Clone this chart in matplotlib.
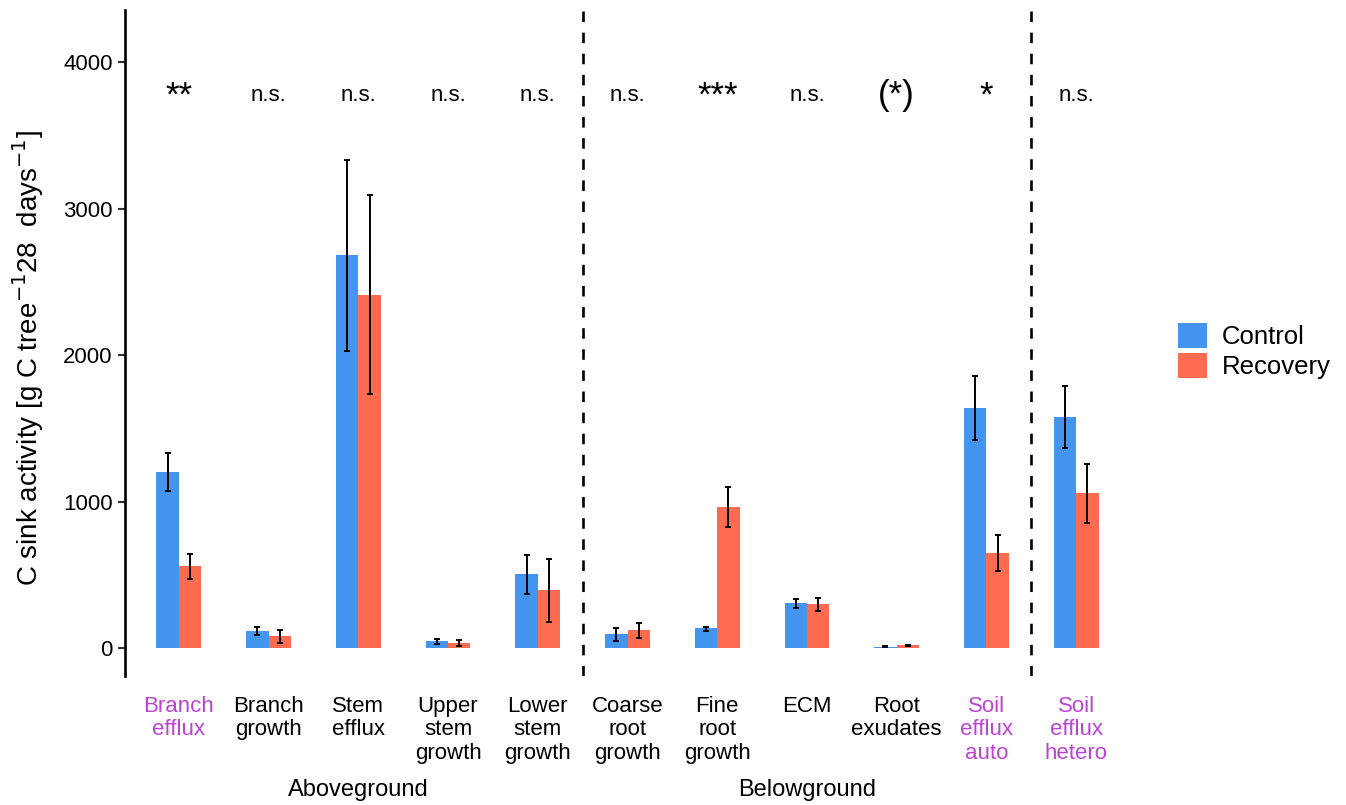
import matplotlib
matplotlib.use("Agg")
import matplotlib.pyplot as plt
import numpy as np
from matplotlib.patches import Patch

plt.rcParams['font.family'] = ['Liberation Sans', 'DejaVu Sans']

# categories (x axis labels)
sinks = ["Branch\nefflux", "Branch\ngrowth", "Stem\nefflux", "Upper\nstem\ngrowth",
         "Lower\nstem\ngrowth", "Coarse\nroot\ngrowth", "Fine\nroot\ngrowth", "ECM",
         "Root\nexudates", "Soil\nefflux\nauto", "Soil\nefflux\nhetero"]
highlight = [True, False, False, False, False, False, False, False, False, True, True]

# means and error bar ends
control = [1203, 116, 2680, 52, 503, 96, 137, 307, 11, 1640, 1575]
control_lo = [1072, 87, 2027, 32, 369, 52, 118, 275, 8, 1420, 1363]
control_hi = [1333, 145, 3329, 66, 635, 141, 148, 337, 14, 1859, 1790]

recovery = [560, 80, 2412, 36, 394, 123, 965, 302, 20, 648, 1058]
recovery_lo = [469, 36, 1734, 14, 182, 73, 828, 255, 15, 526, 855]
recovery_hi = [642, 125, 3090, 57, 610, 173, 1101, 346, 25, 773, 1256]

signif = ["**", "n.s.", "n.s.", "n.s.", "n.s.", "n.s.", "***", "n.s.", "(*)", "*", "n.s."]
groups = ["Aboveground", "Belowground"]
group_pos = [3, 8]
dividers = [5.5, 10.5]

blue = "#4395EF"
red = "#FF6B4E"
purple = "#BB44D4"

fig = plt.figure(figsize=(13.46, 8.05), dpi=100)
ax = fig.add_axes([0.0929, 0.160, 0.7466, 0.8276])

x = np.arange(1, len(sinks) + 1)
w = 0.25
c = np.array(control); r = np.array(recovery)
ax.bar(x - w / 2, c, width=w, color=blue, edgecolor="none")
ax.bar(x + w / 2, r, width=w, color=red, edgecolor="none")
ax.errorbar(x - w / 2, c, yerr=[c - np.array(control_lo), np.array(control_hi) - c],
            fmt="none", ecolor="black", elinewidth=1.4, capsize=2.2, capthick=1.4)
ax.errorbar(x + w / 2, r, yerr=[r - np.array(recovery_lo), np.array(recovery_hi) - r],
            fmt="none", ecolor="black", elinewidth=1.4, capsize=2.2, capthick=1.4)

for d in dividers:
    ax.axvline(d, color="black", linestyle=(0, (4, 4)), linewidth=1.9)

for xi, s in zip(x, signif):
    if "*" in s:
        ax.text(xi, 3770, s, ha="center", va="center", fontsize=25)
    else:
        ax.text(xi, 3770, s, ha="center", va="center", fontsize=16)

ax.set_xlim(0.4, 11.6)
ax.set_ylim(-191, 4355)
ax.set_yticks([0, 1000, 2000, 3000, 4000])
ax.set_xticks(x)
ax.set_xticklabels(sinks, fontsize=16, linespacing=1.17)
for lab, h in zip(ax.get_xticklabels(), highlight):
    lab.set_color(purple if h else "black")
    lab.set_va("top")
ax.tick_params(axis="x", length=0, pad=14)
ax.tick_params(axis="y", labelsize=16, width=1.5, length=5, color="#333333", pad=4)

for sp in ["top", "right", "bottom"]:
    ax.spines[sp].set_visible(False)
ax.spines["left"].set_linewidth(1.9)

ax.set_ylabel(r"C sink activity [g C tree$^{-1}$28  days$^{-1}$]", fontsize=20)
ax.yaxis.set_label_coords(-0.079, 0.4775)

for g, gp in zip(groups, group_pos):
    ax.text(gp, -0.171, g, transform=ax.get_xaxis_transform(), ha="center",
            va="center", fontsize=17)

handles = [Patch(facecolor=blue, label="Control"), Patch(facecolor=red, label="Recovery")]
fig.legend(handles=handles, loc="center left", bbox_to_anchor=(0.862, 0.564), frameon=False,
           fontsize=18.5, handlelength=1.1, handleheight=1.1, labelspacing=0.15,
           handletextpad=0.6, borderpad=0.2)

fig.savefig("out.png", dpi=100)
